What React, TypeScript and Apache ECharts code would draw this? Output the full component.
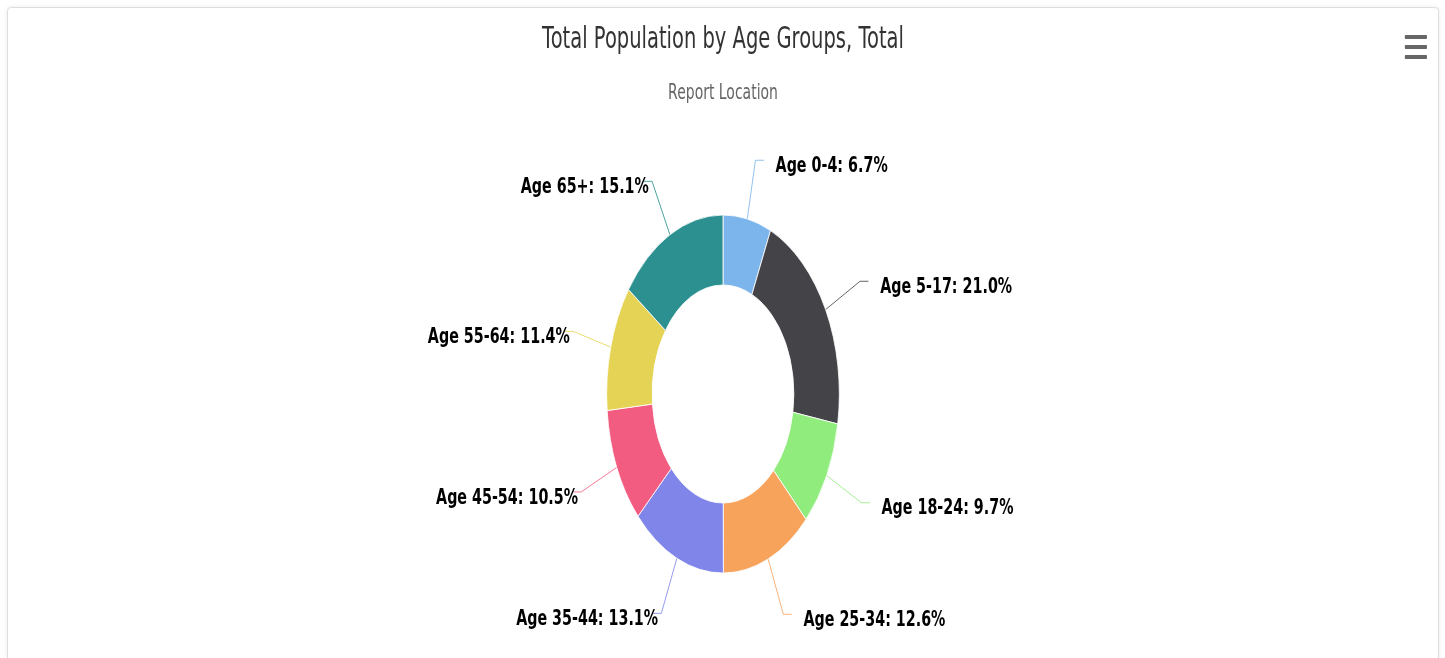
import React, { useEffect, useRef } from "react";
import * as echarts from "echarts";

const categories = [
  "Age 0-4",
  "Age 5-17",
  "Age 18-24",
  "Age 25-34",
  "Age 35-44",
  "Age 45-54",
  "Age 55-64",
  "Age 65+",
];
const values = [6.7, 21.0, 9.7, 12.6, 13.1, 10.5, 11.4, 15.1];
const colors = [
  "#7cb5ec",
  "#434348",
  "#90ed7d",
  "#f7a35c",
  "#8085e9",
  "#f15c80",
  "#e4d354",
  "#2b908f",
];
const titleText = "Total Population by Age Groups, Total";
const subtitleText = "Report Location";

const SCALE_X = 0.65;
const CARD_INNER_W = 1430;
const CHART_W = CARD_INNER_W / SCALE_X;
const CHART_H = 650;

export default function App() {
  const ref = useRef<HTMLDivElement>(null);

  useEffect(() => {
    if (!ref.current) return;
    const chart = echarts.init(ref.current, null, { renderer: "svg" });
    const font = "'DejaVu Sans', Verdana, sans-serif";
    chart.setOption({
      animation: false,
      color: colors,
      title: [
        {
          text: titleText,
          left: "center",
          top: 15,
          padding: 0,
          textStyle: {
            fontFamily: font,
            fontSize: 30,
            fontWeight: "normal",
            color: "#333333",
          },
        },
        {
          text: subtitleText,
          left: "center",
          top: 72,
          padding: 0,
          textStyle: {
            fontFamily: font,
            fontSize: 21.5,
            fontWeight: "normal",
            color: "#666666",
          },
        },
      ],
      graphic: [
        { type: "rect", shape: { x: 2149, y: 27, width: 34, height: 4, r: 1 }, style: { fill: "#666666" } },
        { type: "rect", shape: { x: 2149, y: 37, width: 34, height: 4, r: 1 }, style: { fill: "#666666" } },
        { type: "rect", shape: { x: 2149, y: 47, width: 34, height: 4, r: 1 }, style: { fill: "#666666" } },
      ],
      series: [
        {
          type: "pie",
          center: ["50%", 386],
          radius: [109, 179],
          startAngle: 90,
          clockwise: true,
          avoidLabelOverlap: true,
          itemStyle: { borderColor: "#ffffff", borderWidth: 1 },
          label: {
            show: true,
            formatter: (p: any) => `${p.name}: ${Number(p.value).toFixed(1)}%`,
            fontFamily: font,
            fontSize: 22,
            fontWeight: "bold",
            color: "#000000",
          },
          labelLine: {
            show: true,
            length: 60,
            length2: 13,
            lineStyle: { width: 1 },
          },
          labelLayout: { dx: 13, dy: 4 },
          emphasis: { disabled: true },
          data: categories.map((name, i) => ({ name, value: values[i] })),
        },
      ],
    });
    return () => chart.dispose();
  }, []);

  return (
    <div
      style={{
        position: "fixed",
        left: 7,
        top: 7,
        width: CARD_INNER_W + 2,
        height: 670,
        border: "1px solid #dedede",
        borderRadius: 4,
        boxSizing: "border-box",
        overflow: "hidden",
        background: "#ffffff",
        boxShadow: "0 0 4px rgba(0,0,0,0.08)",
      }}
    >
      <div
        ref={ref}
        style={{
          width: CHART_W,
          height: CHART_H,
          transform: `scaleX(${SCALE_X})`,
          transformOrigin: "0 0",
        }}
      />
    </div>
  );
}
